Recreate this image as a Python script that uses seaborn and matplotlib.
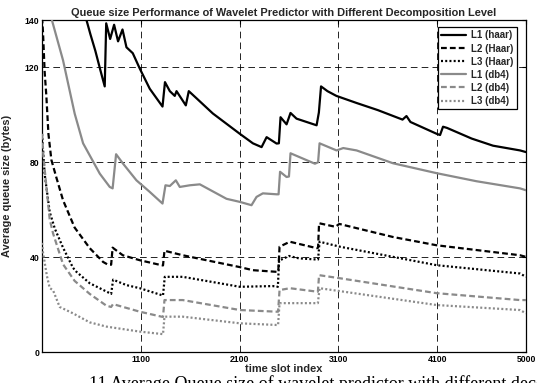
import matplotlib
matplotlib.use("Agg")
import matplotlib.pyplot as plt
import seaborn as sns
import pandas as pd

# ---------------- data ----------------
labels = ["L1 (haar)", "L2 (Haar)", "L3 (Haar)", "L1 (db4)", "L2 (db4)", "L3 (db4)"]

x_l1_haar = [100, 300, 450, 550, 590, 640, 690, 735, 750, 790, 830, 870, 915, 955, 1019, 1090,
             1191, 1320, 1345, 1394, 1444, 1462, 1556, 1586, 1664, 1829, 2103, 2235, 2323, 2374,
             2475, 2498, 2515, 2576, 2616, 2677, 2880, 2903, 2925, 2990, 3080, 3285, 3500, 3750,
             3790, 3830, 4096, 4130, 4160, 4200, 4450, 4666, 4940, 5000]
y_l1_haar = [175, 160, 148, 140, 134, 127, 119, 112, 138.6, 132, 138, 131, 136, 128.5, 126, 119.5,
             111, 103.5, 113.8, 110, 108, 110, 104, 110, 107, 100.6, 92, 88, 86.4, 90.6,
             87.9, 88, 99, 96, 100.8, 98.4, 95.6, 101, 112, 110, 108, 105, 102, 98,
             99.5, 97, 92, 91.5, 95, 94.5, 90, 87, 85, 84.3]

x_l2_haar = [100, 110, 127, 144, 165, 195, 246, 313, 430, 583, 718, 760, 800, 815, 918, 1090,
             1310, 1325, 1340, 1525, 1765, 2103, 2235, 2478, 2492, 2505, 2609, 2880, 2895, 2905,
             3070, 3110, 3653, 4096, 4939, 5000]
y_l2_haar = [141, 135, 118, 108, 92, 81, 73.5, 64, 52.5, 43.8, 38, 37, 36.8, 44, 40.8, 38.7,
             36.6, 36.5, 42.7, 40.8, 38.7, 35.8, 34.5, 33.8, 34, 44.4, 46.5, 43.8, 44, 54.3,
             52.8, 54, 48.5, 45, 40.8, 40.1]

x_l3_haar = [100, 127, 178, 230, 313, 414, 449, 583, 786, 800, 820, 955, 1090, 1310, 1325, 1343,
             1525, 2103, 2437, 2488, 2500, 2600, 2700, 2880, 2895, 2910, 3116, 4096, 4939, 5000]
y_l3_haar = [92, 75, 59, 52, 44, 35.5, 33.8, 29, 24.8, 24.5, 30.5, 28.2, 26.9, 24, 23.8, 31.7,
             31.7, 27.5, 27.8, 27.5, 38.5, 40.5, 39.5, 39, 39, 46.5, 44.4, 36.6, 33.1, 31.7]

x_l1_db4 = [100, 150, 200, 313, 431, 516, 685, 786, 815, 850, 921, 1056, 1191, 1320, 1350, 1394,
            1455, 1495, 1596, 1698, 1968, 2103, 2221, 2272, 2336, 2475, 2495, 2510, 2576, 2600,
            2616, 2863, 2895, 2910, 3082, 3150, 3285, 3653, 4096, 4500, 4939, 5000]
y_l1_db4 = [165, 150, 140, 123, 100.5, 88, 75.2, 69.6, 69, 83.4, 79.4, 72.4, 67.5, 62.6, 70.3, 70,
            72.4, 69.6, 70.3, 70.7, 64.6, 63.3, 61.9, 65.4, 66.9, 66.5, 66.5, 76, 73.8, 74,
            83.8, 79.4, 80, 88, 85, 86, 85, 79.6, 75.4, 72, 69, 68.2]

x_l2_db4 = [100, 115, 178, 212, 313, 430, 583, 753, 800, 819, 1090, 1310, 1325, 1340, 1525, 2103,
            2475, 2490, 2505, 2609, 2893, 2905, 3116, 4096, 4939, 5000]
y_l2_db4 = [92, 82, 56, 50, 37, 30, 24.5, 19.5, 19, 20.2, 17, 14.9, 14.8, 21.9, 21.9, 17.7,
            17, 17, 26.1, 26.9, 25.4, 32.4, 31.1, 24.8, 21.9, 21.9]

x_l3_db4 = [100, 110, 150, 178, 212, 279, 414, 583, 753, 1090, 1310, 1325, 1340, 1525, 2103, 2475,
            2490, 2505, 2893, 2910, 4096, 4939, 5000]
y_l3_db4 = [46, 42, 32, 27, 26, 19, 16.3, 12.5, 10.7, 8.6, 7.6, 7.5, 14.9, 14.9, 12.1, 11.4,
            11.4, 20.6, 20.6, 26.9, 19.8, 17.7, 16.3]

x_ticks = [1100, 2100, 3100, 4100, 5000]
y_ticks = [0, 40, 80, 120, 140]

title = "Queue size Performance of Wavelet Predictor with Different Decomposition Level"
x_label = "time slot index"
y_label = "Average queue size (bytes)"
caption = "11 Average Queue size of wavelet predictor with different decomposition level"

# ---------------- figure ----------------
sns.set_theme(style="white")
plt.rcParams["font.family"] = ["Liberation Sans", "DejaVu Sans"]

W, H = 537, 383
fig = plt.figure(figsize=(W / 100, H / 100), dpi=100)
ax = fig.add_axes([42 / W, 1 - 352 / H, 484 / W, 332 / H])

grey = "#8a8a8a"
series = [
    (x_l1_haar, y_l1_haar, "black", "-"),
    (x_l2_haar, y_l2_haar, "black", (0, (2.6, 1.4))),
    (x_l3_haar, y_l3_haar, "black", (0, (0.9, 1.0))),
    (x_l1_db4, y_l1_db4, grey, "-"),
    (x_l2_db4, y_l2_db4, grey, (0, (2.6, 1.4))),
    (x_l3_db4, y_l3_db4, grey, (0, (0.9, 1.0))),
]

for (xs, ys, col, ls), lab in zip(series, labels):
    df = pd.DataFrame({"x": xs, "y": ys})
    sns.lineplot(data=df, x="x", y="y", ax=ax, color=col, linestyle=ls, lw=1.6,
                 label=lab, sort=False, estimator=None, zorder=3)

ax.set_xlim(100, 5000)
ax.set_ylim(0, 140)
ax.set_xticks(x_ticks)
ax.set_yticks(y_ticks)
ax.set_xticklabels([str(t) for t in x_ticks])
ax.set_yticklabels([str(t) for t in y_ticks])

ax.grid(True, color="black", lw=0.6, linestyle=(0, (8, 5)), zorder=1)
for s in ax.spines.values():
    s.set_color("black")
    s.set_linewidth(0.9)
ax.tick_params(direction="in", top=True, right=True, length=3, width=0.8,
               labelsize=6.2, pad=2, colors="black")
for lbl in ax.get_xticklabels() + ax.get_yticklabels():
    lbl.set_fontweight("bold")

ax.set_title(title, fontsize=7.9, fontweight="bold", pad=3)
ax.set_xlabel(x_label, fontsize=7.9, fontweight="bold", labelpad=0)
ax.set_ylabel(y_label, fontsize=7.9, fontweight="bold")
ax.yaxis.set_label_coords(-(42 - 12) / 484, 0.5)

leg = ax.legend(loc="upper right", bbox_to_anchor=((517 - 42) / 484, (352 - 27) / 332),
                borderaxespad=0, fancybox=False, framealpha=1, edgecolor="black",
                prop={"size": 7, "weight": "bold"}, handlelength=2.6, labelspacing=0.32,
                handletextpad=0.5, borderpad=0.35)
leg.get_frame().set_linewidth(0.9)

fig.text(89 / W, 1 - 375 / H, caption, fontsize=13, family=["Liberation Serif", "DejaVu Serif"],
         va="top", ha="left", color="black")

fig.savefig("out.png", dpi=100)
